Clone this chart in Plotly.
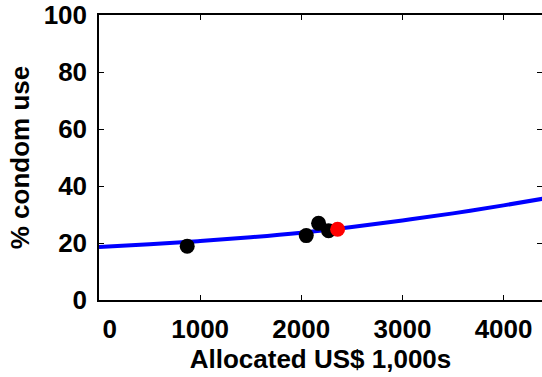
import plotly.graph_objects as go

# Fitted curve
curve_x = [0, 500, 1000, 1500, 2000, 2500, 3000, 3500, 4000, 4400]
curve_y = [18.6, 19.6, 20.7, 22.0, 23.6, 25.6, 27.9, 30.4, 33.2, 35.6]

# Observed points (black)
obs_x = [872, 2049, 2171, 2270]
obs_y = [18.9, 22.6, 26.9, 24.3]

# Current allocation point (red)
cur_x = [2359]
cur_y = [24.8]

x_ticks = [0, 1000, 2000, 3000, 4000]
x_tick_labels = ["\u00a0\u00a0\u00a00", "1000", "2000", "3000", "4000"]
y_ticks = [0, 20, 40, 60, 80, 100]

FONT = "Liberation Sans, Arial, Helvetica, sans-serif"
FS = 26

fig = go.Figure()
fig.add_trace(go.Scatter(x=curve_x, y=curve_y, mode="lines",
                         line=dict(color="#0000ff", width=4, shape="spline"),
                         showlegend=False, hoverinfo="skip"))
fig.add_trace(go.Scatter(x=obs_x, y=obs_y, mode="markers",
                         marker=dict(color="black", size=15, line=dict(width=0)),
                         showlegend=False))
fig.add_trace(go.Scatter(x=cur_x, y=cur_y, mode="markers",
                         marker=dict(color="#ff0000", size=15, line=dict(width=0)),
                         showlegend=False))
# dummy trace to carry the right-side tick axis
fig.add_trace(go.Scatter(x=[None], y=[None], yaxis="y2", showlegend=False))

fig.update_layout(
    width=542, height=377,
    margin=dict(l=99, r=0, t=15, b=77, autoexpand=False),
    plot_bgcolor="white", paper_bgcolor="white",
    font=dict(family=FONT, size=FS, color="black", weight="bold"),
    xaxis=dict(range=[0, 4380], tickvals=x_ticks, ticktext=x_tick_labels,
               ticks="inside", ticklen=5,
               tickcolor="black", showline=True, linecolor="black", linewidth=1.5,
               mirror="ticks", showgrid=False, zeroline=False, automargin=False,
               ticklabelstandoff=5,
               title=dict(text="Allocated US$ 1,000s", standoff=1,
                          font=dict(size=FS, weight="bold")),
               tickfont=dict(size=FS, weight="bold")),
    yaxis=dict(range=[0, 100], tickvals=y_ticks, ticks="inside", ticklen=5,
               tickcolor="black", showline=True, linecolor="black", linewidth=1.5,
               showgrid=False, zeroline=False, automargin=False,
               ticklabelstandoff=5,
               title=dict(text="% condom use", standoff=7,
                          font=dict(size=FS, weight="bold")),
               tickfont=dict(size=FS, weight="bold")),
    yaxis2=dict(range=[0, 100], tickvals=y_ticks, ticks="inside", ticklen=5,
                tickcolor="black", overlaying="y", side="right", anchor="x",
                showline=False, showgrid=False, zeroline=False, automargin=False,
                showticklabels=False, matches="y"),
)

fig.write_html(
    "out.html",
    config={"displayModeBar": False},
    post_script=("document.body.style.margin='0';"
                 "document.body.style.overflow='hidden';"
                 "document.documentElement.style.overflow='hidden';"),
)
